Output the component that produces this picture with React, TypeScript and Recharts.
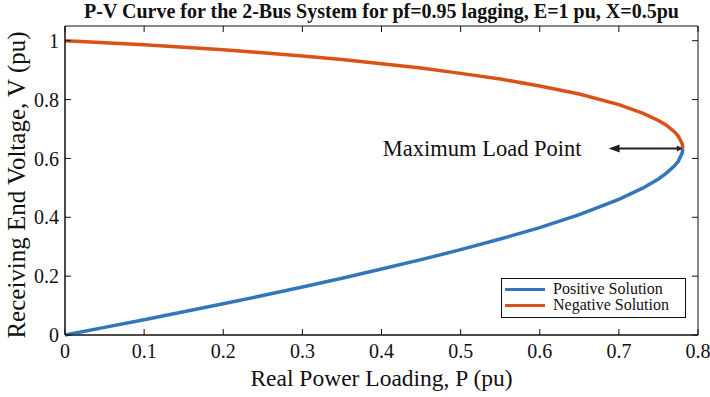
import React from 'react';
import {
  LineChart,
  Line,
  XAxis,
  YAxis,
  ReferenceLine,
  ReferenceArea,
} from 'recharts';

// P-V curve values
const loadP = [
  0, 0.02, 0.05, 0.1, 0.15, 0.2, 0.25, 0.3, 0.35, 0.4, 0.45, 0.5, 0.55, 0.6,
  0.65, 0.7, 0.73, 0.75, 0.76, 0.77, 0.775, 0.78, 0.7808,
];
const vPositive = [
  0, 0.01, 0.026, 0.052, 0.079, 0.106, 0.134, 0.163, 0.193, 0.224, 0.256,
  0.29, 0.326, 0.365, 0.409, 0.461, 0.499, 0.53, 0.55, 0.574, 0.59, 0.618,
  0.634,
];
const vNegative = [
  1, 0.997, 0.993, 0.986, 0.978, 0.969, 0.959, 0.948, 0.936, 0.922, 0.907,
  0.889, 0.87, 0.846, 0.819, 0.783, 0.754, 0.729, 0.713, 0.691, 0.676, 0.65,
  0.634,
];

const xTicks = [0, 0.1, 0.2, 0.3, 0.4, 0.5, 0.6, 0.7, 0.8];
const yTicks = [0, 0.2, 0.4, 0.6, 0.8, 1];
const xDomain = [0, 0.8];
const yDomain = [0, 1.05];

// annotation: arrow from label to the nose of the curve
const arrowStart = { x: 0.687, y: 0.634 };
const arrowEnd = { x: 0.7808, y: 0.634 };
const annotationText = 'Maximum Load Point';

const seriesNames = ['Positive Solution', 'Negative Solution'];

const positiveData = loadP.map((p, i) => ({ p, v: vPositive[i] }));
const negativeData = loadP.map((p, i) => ({ p, v: vNegative[i] }));

const BLUE = '#3476bb';
const ORANGE = '#d95319';
const FONT = '"Liberation Serif", serif';

// plot box (chart 710x397, margins top 26 / right 12, x axis 62 high, y axis 65 wide)
const PLOT_TOP = 26;
const PLOT_BOTTOM = 335;
const PLOT_LEFT = 65;
const PLOT_RIGHT = 698;
const TICK_LEN = 6;

const ArrowShape = (props: any) => {
  const { x1, y1, x2, y2 } = props;
  return (
    <g>
      <line x1={x1 + 8} y1={y1} x2={x2 - 3} y2={y2} stroke="#222" strokeWidth={2} />
      <path d={`M${x1},${y1} L${x1 + 11},${y1 - 4} L${x1 + 11},${y1 + 4} Z`} fill="#222" />
      <path d={`M${x2},${y2} L${x2 - 6},${y2 - 3} L${x2 - 6},${y2 + 3} Z`} fill="#222" />
      <text
        x={x1 - 27}
        y={y1}
        textAnchor="end"
        dominantBaseline="central"
        fontFamily={FONT}
        fontSize={22.5}
        fill="#111"
      >
        {annotationText}
      </text>
    </g>
  );
};

// tick label plus inward tick marks on both sides of the box
const XTick = (props: any) => {
  const { x, y, payload } = props;
  return (
    <g>
      <line x1={x} y1={PLOT_BOTTOM} x2={x} y2={PLOT_BOTTOM - TICK_LEN} stroke="#111" />
      <line x1={x} y1={PLOT_TOP} x2={x} y2={PLOT_TOP + TICK_LEN} stroke="#111" />
      <text x={x} y={y} dy="0.71em" textAnchor="middle" fontFamily={FONT} fontSize={20} fill="#111">
        {payload.value}
      </text>
    </g>
  );
};
const YTick = (props: any) => {
  const { x, y, payload } = props;
  return (
    <g>
      <line x1={PLOT_LEFT} y1={y} x2={PLOT_LEFT + TICK_LEN} y2={y} stroke="#111" />
      <line x1={PLOT_RIGHT} y1={y} x2={PLOT_RIGHT - TICK_LEN} y2={y} stroke="#111" />
      <text x={x} y={y} dy="0.355em" textAnchor="end" fontFamily={FONT} fontSize={20} fill="#111">
        {payload.value}
      </text>
    </g>
  );
};

function LegendBox() {
  const colors = [BLUE, ORANGE];
  return (
    <div
      style={{
        position: 'absolute',
        left: 501,
        top: 278,
        width: 180,
        height: 36,
        border: '1px solid #111',
        background: '#fff',
        fontFamily: FONT,
        fontSize: 16,
        padding: '2px 0 0 3px',
        lineHeight: '16px',
        color: '#111',
      }}
    >
      {seriesNames.map((name, i) => (
        <div key={name} style={{ display: 'flex', alignItems: 'center', height: 16 }}>
          <span
            style={{
              display: 'inline-block',
              width: 40,
              height: 3,
              background: colors[i],
              marginRight: 8,
            }}
          />
          <span>{name}</span>
        </div>
      ))}
    </div>
  );
}

export default function App() {
  const axisStroke = { stroke: '#111' };
  return (
    <div style={{ position: 'absolute', left: 0, top: 0, width: 710, height: 397, background: '#fff' }}>
      <div
        style={{
          position: 'absolute',
          left: 65,
          width: 633,
          top: 0,
          textAlign: 'center',
          fontFamily: FONT,
          fontWeight: 'bold',
          fontSize: 20,
          color: '#111',
          whiteSpace: 'nowrap',
        }}
      >
        P-V Curve for the 2-Bus System for pf=0.95 lagging, E=1 pu, X=0.5pu
      </div>
      <LineChart
        width={710}
        height={397}
        margin={{ top: 26, right: 12, bottom: 0, left: 0 }}
      >
        <XAxis
          dataKey="p"
          type="number"
          domain={xDomain}
          ticks={xTicks}
          height={62}
          tickSize={-6}
          tickMargin={15}
          tick={XTick}
          axisLine={axisStroke}
          tickLine={false}
        />
        <YAxis
          type="number"
          domain={yDomain}
          ticks={yTicks}
          width={65}
          tickSize={-6}
          tickMargin={12}
          tick={YTick}
          axisLine={axisStroke}
          tickLine={false}
        />
        {/* frame round the plot area */}
        <ReferenceArea
          x1={xDomain[0]}
          x2={xDomain[1]}
          y1={yDomain[0]}
          y2={yDomain[1]}
          fill="none"
          stroke="#111"
          strokeWidth={1}
          ifOverflow="visible"
        />
        <Line
          data={positiveData}
          dataKey="v"
          name={seriesNames[0]}
          stroke={BLUE}
          strokeWidth={3.5}
          dot={false}
          type="linear"
          isAnimationActive={false}
        />
        <Line
          data={negativeData}
          dataKey="v"
          name={seriesNames[1]}
          stroke={ORANGE}
          strokeWidth={3.5}
          dot={false}
          type="linear"
          isAnimationActive={false}
        />
        <ReferenceLine
          segment={[arrowStart, arrowEnd]}
          shape={ArrowShape}
          ifOverflow="visible"
        />
      </LineChart>
      <LegendBox />
      <div
        style={{
          position: 'absolute',
          left: 65,
          width: 633,
          top: 365,
          textAlign: 'center',
          fontFamily: FONT,
          fontSize: 23.5,
          color: '#111',
          whiteSpace: 'nowrap',
        }}
      >
        Real Power Loading, P (pu)
      </div>
      <div
        style={{
          position: 'absolute',
          left: 17,
          top: 185,
          transform: 'translate(-50%, -50%) rotate(-90deg)',
          fontFamily: FONT,
          fontSize: 25,
          color: '#111',
          whiteSpace: 'nowrap',
        }}
      >
        Receiving End Voltage, V (pu)
      </div>
    </div>
  );
}
